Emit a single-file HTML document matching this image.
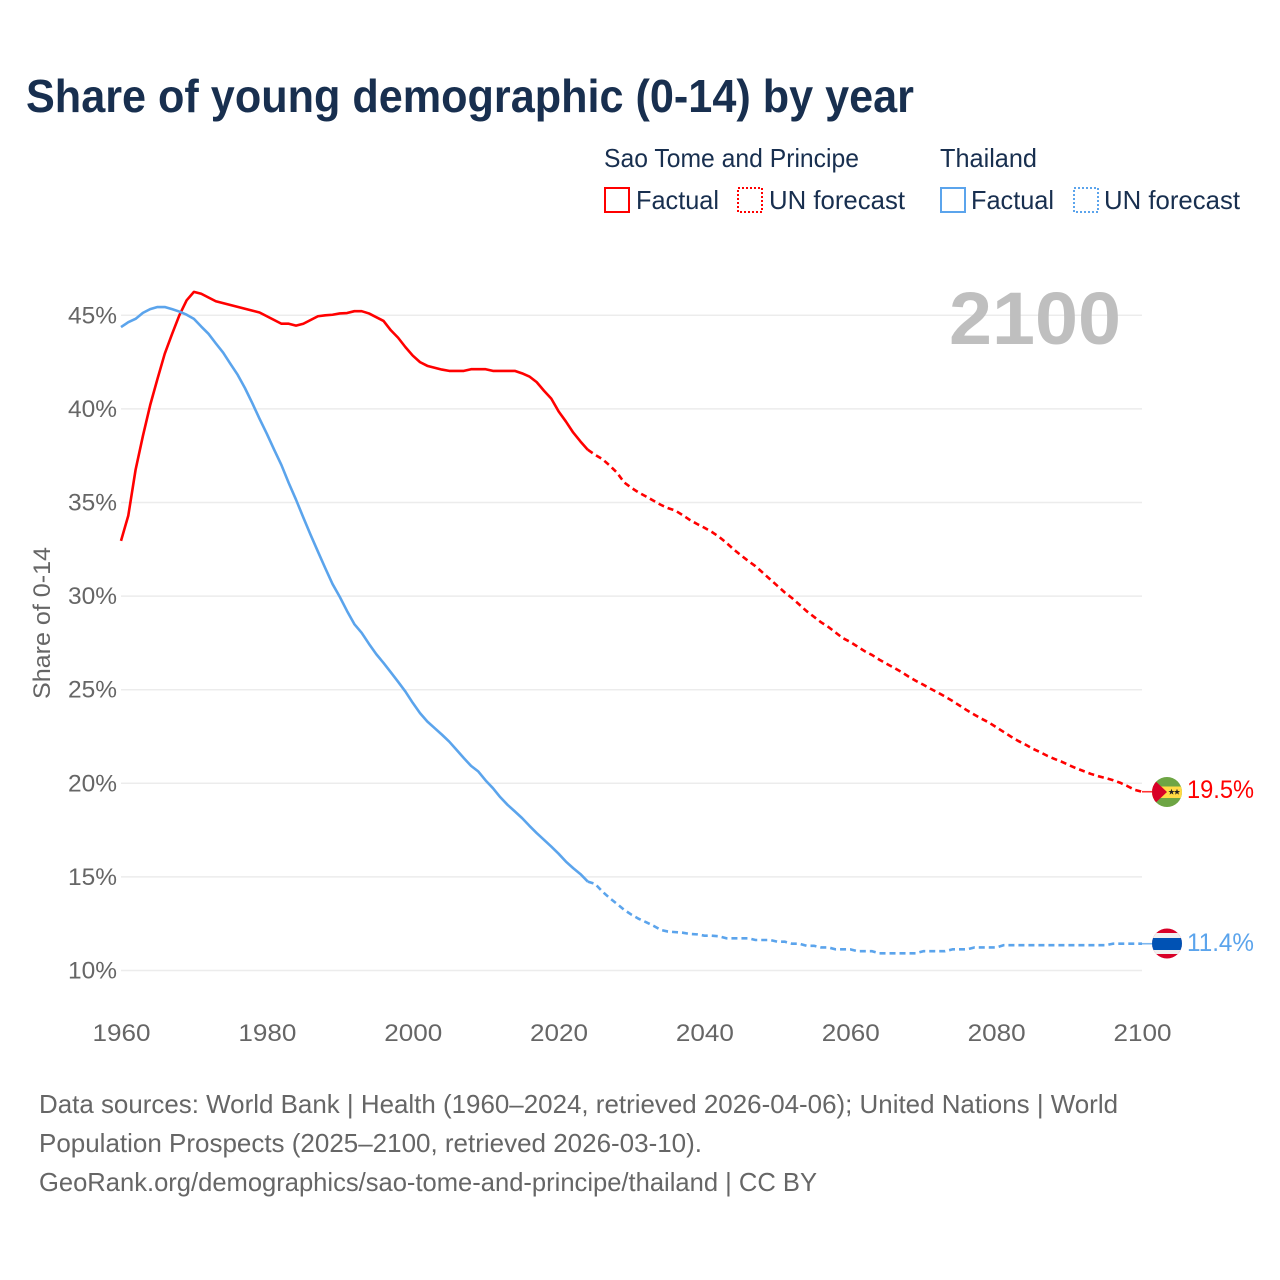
<!DOCTYPE html>
<html lang="en">
<head>
<meta charset="utf-8">
<title>Share of young demographic (0-14) by year</title>
<style>
html,body{margin:0;padding:0;background:#fff}
svg{display:block}
text{font-family:"Liberation Sans",sans-serif}
</style>
</head>
<body>
<svg id="chart" xmlns="http://www.w3.org/2000/svg" width="1280" height="1280" viewBox="0 0 1280 1280">
  <rect x="0" y="0" width="1280" height="1280" fill="#ffffff"/>
  <text x="26" y="112" font-size="46" font-weight="700" fill="#182f4f" textLength="888" lengthAdjust="spacingAndGlyphs">Share of young demographic (0-14) by year</text>

  <g font-size="26" fill="#182f4f">
    <text x="604" y="167" textLength="255" lengthAdjust="spacingAndGlyphs">Sao Tome and Principe</text>
    <text x="940" y="167" textLength="97" lengthAdjust="spacingAndGlyphs">Thailand</text>
    <rect x="605" y="188" width="24" height="24" fill="none" stroke="#ff0000" stroke-width="2"/>
    <text x="636" y="209" textLength="83" lengthAdjust="spacingAndGlyphs">Factual</text>
    <rect x="738" y="188" width="24" height="24" fill="none" stroke="#ff0000" stroke-width="2" stroke-dasharray="2 2"/>
    <text x="769" y="209" textLength="136" lengthAdjust="spacingAndGlyphs">UN forecast</text>
    <rect x="941" y="188" width="24" height="24" fill="none" stroke="#5ba4ec" stroke-width="2"/>
    <text x="971" y="209" textLength="83" lengthAdjust="spacingAndGlyphs">Factual</text>
    <rect x="1074" y="188" width="24" height="24" fill="none" stroke="#5ba4ec" stroke-width="2" stroke-dasharray="2 2"/>
    <text x="1104" y="209" textLength="136" lengthAdjust="spacingAndGlyphs">UN forecast</text>
  </g>

  <g id="grid"></g>
  <g id="yticks"></g>
  <g id="xticks"></g>

  <text x="949" y="344" font-size="74" font-weight="700" fill="#bfbfbf" textLength="172" lengthAdjust="spacingAndGlyphs">2100</text>
  <text transform="translate(50,699) rotate(-90)" font-size="24" fill="#666666" textLength="152" lengthAdjust="spacingAndGlyphs">Share of 0-14</text>

  <g id="series"></g>

  <g>
    <clipPath id="stp-clip"><circle cx="1167" cy="792" r="15"/></clipPath>
    <g clip-path="url(#stp-clip)">
      <rect x="1152" y="777" width="30" height="30" fill="#6da544"/>
      <rect x="1152" y="786.5" width="30" height="11.5" fill="#ffda44"/>
      <polygon points="1150,776 1167,792 1150,808" fill="#d80027"/>
      <polygon points="1171.5,788.8 1172.3,791 1174.6,791 1172.8,792.4 1173.4,794.6 1171.5,793.3 1169.6,794.6 1170.2,792.4 1168.4,791 1170.7,791" fill="#222222"/>
      <polygon points="1177,788.8 1177.8,791 1180.1,791 1178.3,792.4 1178.9,794.6 1177,793.3 1175.1,794.6 1175.7,792.4 1173.9,791 1176.2,791" fill="#222222"/>
    </g>
  </g>
  <g>
    <clipPath id="tha-clip"><circle cx="1167" cy="943.5" r="15"/></clipPath>
    <g clip-path="url(#tha-clip)">
      <rect x="1152" y="928" width="30" height="31" fill="#d80027"/>
      <rect x="1152" y="933" width="30" height="21" fill="#f0f0f0"/>
      <rect x="1152" y="938" width="30" height="12" fill="#0052b4"/>
    </g>
  </g>
  <text x="1187" y="798" font-size="25" fill="#ff0000" textLength="67" lengthAdjust="spacingAndGlyphs">19.5%</text>
  <text x="1187" y="951" font-size="25" fill="#5ba4ec" textLength="67" lengthAdjust="spacingAndGlyphs">11.4%</text>

  <g font-size="26" fill="#666666">
    <text x="39" y="1113" textLength="1079" lengthAdjust="spacingAndGlyphs">Data sources: World Bank | Health (1960–2024, retrieved 2026-04-06); United Nations | World</text>
    <text x="39" y="1152" textLength="663" lengthAdjust="spacingAndGlyphs">Population Prospects (2025–2100, retrieved 2026-03-10).</text>
    <text x="39" y="1191" textLength="778" lengthAdjust="spacingAndGlyphs">GeoRank.org/demographics/sao-tome-and-principe/thailand | CC BY</text>
  </g>
</svg>
<script>
const yTickValues = [45, 40, 35, 30, 25, 20, 15, 10];
const xTickYears = [1960, 1980, 2000, 2020, 2040, 2060, 2080, 2100];
const firstYear = 1960;
const forecastBaseYear = 2024;
const saoTomeFactual = [
  32.95,34.3,36.75,38.55,40.2,41.6,42.95,44.0,45.0,45.8,
  46.25,46.15,45.95,45.75,45.65,45.55,45.45,45.35,45.25,45.15,
  44.95,44.75,44.55,44.55,44.45,44.55,44.75,44.95,45.0,45.03,
  45.1,45.12,45.22,45.22,45.1,44.9,44.7,44.2,43.8,43.3,
  42.85,42.5,42.3,42.2,42.1,42.03,42.03,42.03,42.12,42.12,
  42.12,42.03,42.03,42.03,42.03,41.9,41.73,41.43,40.97,40.55,
  39.87,39.33,38.74,38.26,37.82
];
const saoTomeForecast = [
  37.82,
  37.55,37.32,36.98,36.6,36.07,35.78,35.53,35.32,35.1,34.88,34.7,34.57,34.33,34.07,33.85,
  33.65,33.43,33.17,32.85,32.5,32.18,31.88,31.6,31.25,30.9,
  30.55,30.2,29.9,29.55,29.2,28.9,28.6,28.35,28.05,27.75,
  27.55,27.3,27.05,26.85,26.6,26.38,26.17,25.95,25.7,25.47,
  25.27,25.05,24.85,24.63,24.4,24.15,23.9,23.67,23.45,23.25,
  23.0,22.75,22.5,22.27,22.07,21.85,21.67,21.47,21.3,21.15,
  20.97,20.8,20.65,20.5,20.38,20.28,20.17,20.03,19.85,19.65,19.55
];
const thailandFactual = [
  44.37,44.63,44.81,45.13,45.33,45.44,45.44,45.33,45.2,45.03,
  44.81,44.4,44.01,43.5,43.01,42.41,41.82,41.11,40.31,39.47,
  38.67,37.82,37.0,36.04,35.15,34.2,33.27,32.38,31.5,30.65,
  29.96,29.2,28.5,28.04,27.45,26.9,26.43,25.93,25.42,24.9,
  24.3,23.75,23.3,22.95,22.6,22.23,21.79,21.35,20.93,20.63,
  20.15,19.74,19.26,18.85,18.5,18.14,17.73,17.34,16.98,16.62,
  16.24,15.82,15.47,15.15,14.75
];
const thailandForecast = [
  14.75,
  14.63,14.22,13.87,13.56,13.24,12.98,12.76,12.58,12.39,12.17,12.08,12.05,12.02,11.95,11.93,
  11.86,11.86,11.83,11.72,11.72,11.72,11.72,11.63,11.63,11.63,
  11.54,11.54,11.43,11.43,11.32,11.32,11.23,11.23,11.13,11.13,
  11.13,11.03,11.03,11.03,10.92,10.92,10.92,10.92,10.92,10.92,
  11.03,11.03,11.03,11.03,11.13,11.13,11.13,11.23,11.23,11.23,
  11.23,11.35,11.35,11.35,11.35,11.35,11.35,11.35,11.35,11.35,
  11.35,11.35,11.35,11.35,11.35,11.35,11.43,11.43,11.43,11.43,11.43
];

const SVG_NS = 'http://www.w3.org/2000/svg';
function xScale(year) { return 121 + (year - 1960) * (1021 / 140); }
function yScale(value) { return 970.5 - (value - 10) * 18.72; }
function pathFrom(values, startYear) {
  return values.map(function (v, i) {
    return (i ? 'L' : 'M') + xScale(startYear + i).toFixed(2) + ' ' + yScale(v).toFixed(2);
  }).join(' ');
}
function make(tag, attrs, parent) {
  const el = document.createElementNS(SVG_NS, tag);
  Object.keys(attrs).forEach(function (k) { el.setAttribute(k, attrs[k]); });
  parent.appendChild(el);
  return el;
}

const gridGroup = document.getElementById('grid');
const yTickGroup = document.getElementById('yticks');
yTickValues.forEach(function (v) {
  const line = make('line', { x1: 121, x2: 1142, y1: yScale(v), y2: yScale(v), stroke: '#ececec', 'stroke-width': 1.5 }, gridGroup);
  
  
  const label = make('text', { x: 68, y: yScale(v) + 8, 'font-size': 24, fill: '#666666', textLength: 49, lengthAdjust: 'spacingAndGlyphs' }, yTickGroup);
  
  
  label.textContent = v + '%';
});

const xTickGroup = document.getElementById('xticks');
xTickYears.forEach(function (year) {
  const label = make('text', { x: xScale(year) - 28.5, y: 1041, 'font-size': 24, fill: '#666666', textLength: 58, lengthAdjust: 'spacingAndGlyphs' }, xTickGroup);
  
  
  label.textContent = year;
});

const seriesGroup = document.getElementById('series');
function drawSeries(name, color, factual, forecast) {
  const solid = make('path', { d: pathFrom(factual, firstYear), fill: 'none', stroke: color, 'stroke-width': 2.6, 'stroke-linejoin': 'round' }, seriesGroup);
  
  
  const dashed = make('path', { d: pathFrom(forecast, forecastBaseYear), fill: 'none', stroke: color, 'stroke-width': 2.6, 'stroke-dasharray': '6 4', 'stroke-linejoin': 'round' }, seriesGroup);
  
  
  const endY = yScale(forecast[forecast.length - 1]);
  const leader = make('line', { x1: xScale(2100), x2: 1152, y1: endY, y2: endY, stroke: color, 'stroke-width': 1.6, opacity: 0.8 }, seriesGroup);
  
  
}
drawSeries('sao-tome', '#ff0000', saoTomeFactual, saoTomeForecast);
drawSeries('thailand', '#5ba4ec', thailandFactual, thailandForecast);
</script>
</body>
</html>
